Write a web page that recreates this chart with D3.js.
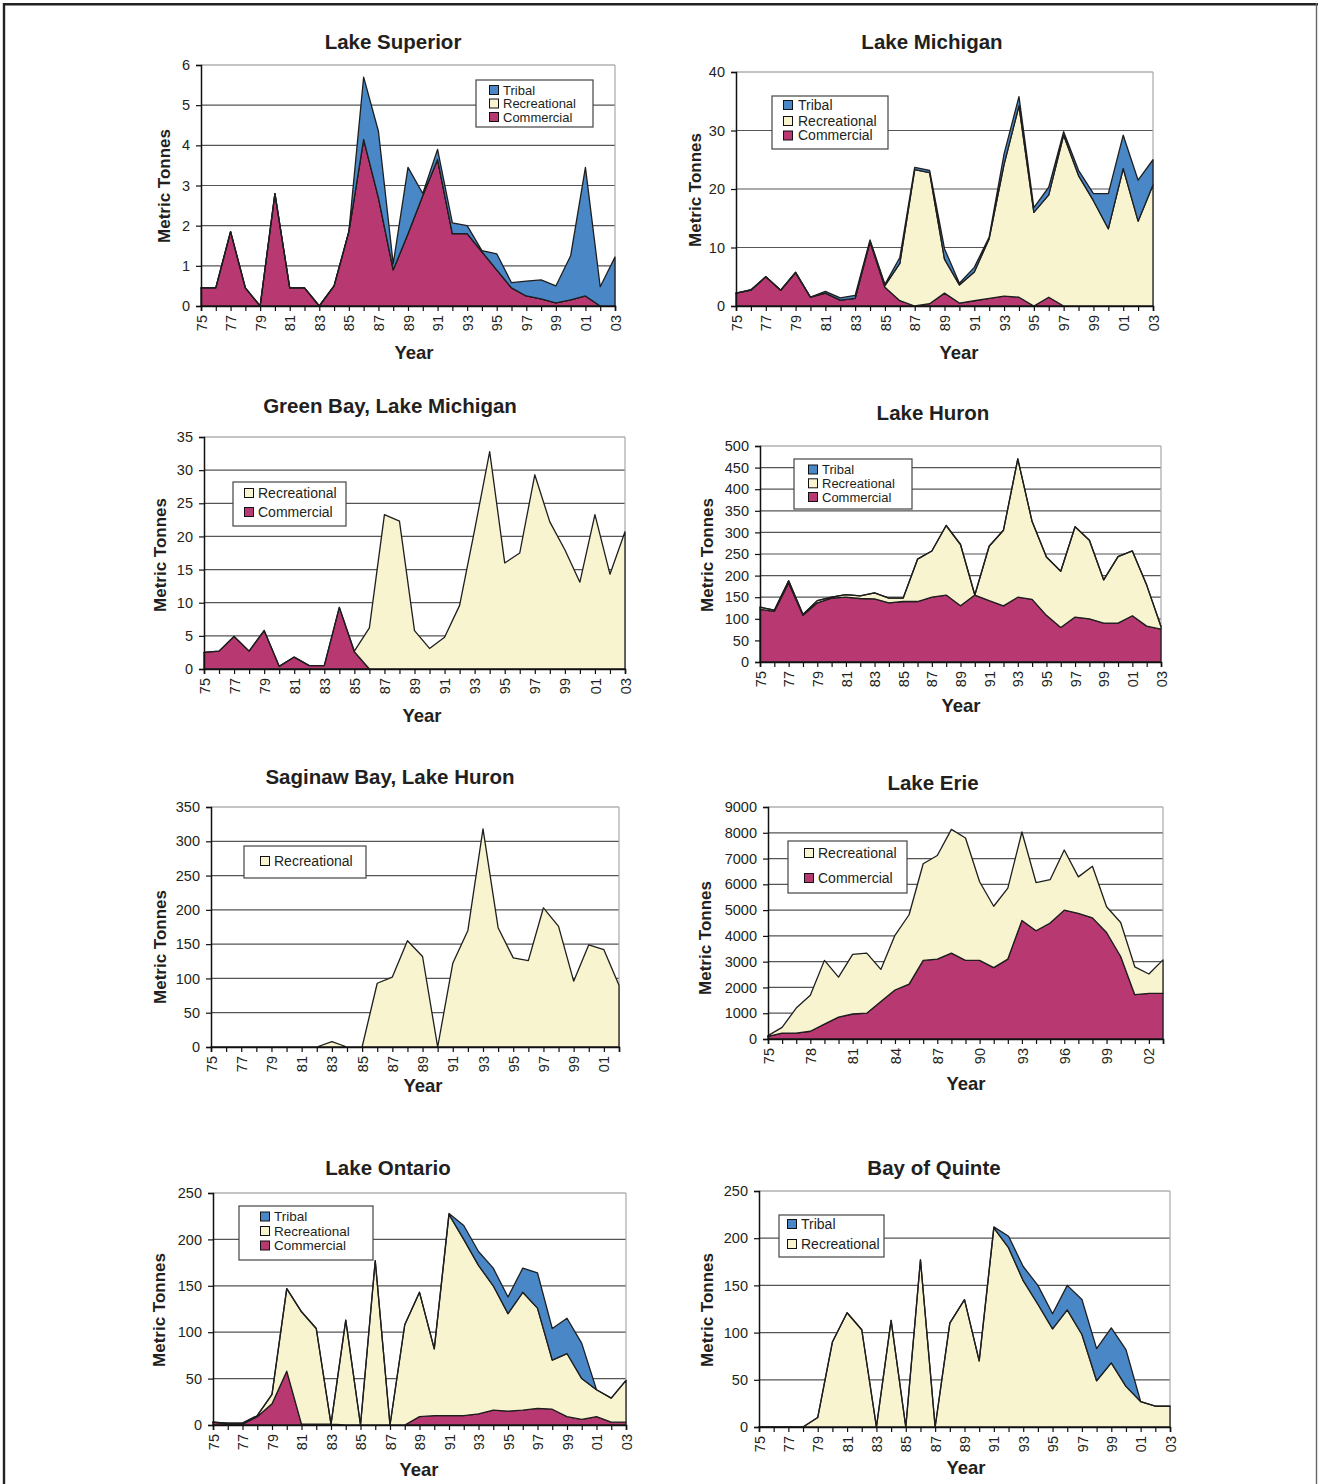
<!DOCTYPE html>
<html><head><meta charset="utf-8">
<script src="https://cdn.jsdelivr.net/npm/d3@7"></script>
<style>
body{margin:0;background:#fff}
svg{display:block}
text{font-family:"Liberation Sans",Arial,Helvetica,sans-serif;fill:#231f20}
</style>
</head><body>
<svg id="chart" width="1318" height="1484"></svg>
<script>
// ---------- DATA ----------
const years = [1975,1976,1977,1978,1979,1980,1981,1982,1983,1984,1985,1986,1987,1988,1989,1990,1991,1992,1993,1994,1995,1996,1997,1998,1999,2000,2001,2002,2003];
const yearsSaginaw = [1975,1976,1977,1978,1979,1980,1981,1982,1983,1984,1985,1986,1987,1988,1989,1990,1991,1992,1993,1994,1995,1996,1997,1998,1999,2000,2001,2002];

// Lake Superior
const supCommercial   = [0.45,0.45,1.85,0.45,0,2.8,0.45,0.45,0,0.5, 1.85,4.15,2.7,0.9,1.8,2.75,3.65,1.8,1.8,1.35, 0.9,0.45,0.25,0.18,0.08,0.15,0.25,0,0];
const supRecreational = [0,0,0,0,0,0,0,0,0,0, 0,0,0,0,0,0,0,0,0,0, 0,0,0,0,0,0,0,0,0];
const supTribal       = [0,0,0,0,0,0,0,0,0,0, 0,1.55,1.65,0.15,1.65,0.05,0.25,0.27,0.2,0.03, 0.4,0.13,0.37,0.47,0.42,1.1,3.2,0.48,1.22];

// Lake Michigan
const micCommercial   = [2.2,2.7,5.0,2.7,5.7,1.5,2.2,1.0,1.3,11.0, 3.2,0.9,0,0.4,2.2,0.5,0.9,1.3,1.7,1.5, 0,1.5,0,0,0,0,0,0,0];
const micRecreational = [0,0,0,0,0,0,0,0,0,0, 0.3,6.4,23.3,22.4,5.8,3.1,4.9,10.2,22.5,32.7, 16,17.5,29.2,22.3,18,13.2,23.5,14.5,20.7];
const micTribal       = [0,0.1,0,0,0.1,0,0.3,0.4,0.5,0.3, 0.2,1.0,0.4,0.4,1.8,0.3,0.8,0.3,1.8,1.6, 0.8,1.3,0.6,0.9,1.2,6.0,5.7,7.0,4.3];

// Green Bay, Lake Michigan
const gbCommercial   = [2.5,2.7,4.9,2.7,5.8,0.4,1.8,0.5,0.5,9.3, 2.6,0,0,0,0,0,0,0,0,0, 0,0,0,0,0,0,0,0,0];
const gbRecreational = [0,0,0,0,0,0,0,0,0,0, 0.1,6.2,23.3,22.3,5.8,3.1,4.8,9.6,21,32.8, 16,17.5,29.3,22.2,18,13.1,23.3,14.3,20.7];

// Lake Huron
const hurCommercial   = [122,117,183,108,137,148,150,147,146,137, 140,140,150,155,130,155,142,130,150,145, 108,80,104,100,90,90,107,83,76];
const hurRecreational = [5,3,5,2,5,2,6,6,14,11, 8,98,107,161,142,0,126,175,320,180, 135,130,209,182,100,154,150,95,6];
const hurTribal       = [0,0,0,0,0,0,0,0,0,0, 0,0,0,0,0,0,0,0,0,0, 0,0,0,0,0,0,0,0,0];

// Saginaw Bay, Lake Huron
const sagRecreational = [0,0,0,0,0,0,0,0,8,0, 0,93,102,155,132,0,122,170,318,174, 130,126,203,176,96,149,142,90];

// Lake Erie
const erieCommercial   = [100,230,230,300,580,850,970,1000,1450,1900, 2130,3050,3100,3330,3050,3050,2770,3100,4600,4200, 4500,5000,4870,4700,4130,3200,1720,1770,1770];
const erieRecreational = [30,220,970,1400,2470,1550,2310,2330,1250,2120, 2690,3750,4020,4800,4750,3050,2380,2750,3430,1870, 1680,2330,1420,2000,1000,1320,1080,750,1300];

// Lake Ontario
const ontCommercial   = [3,1,1,9,23,58,1,1,1,0, 0,0,0,0,9,10,10,10,12,16, 15,16,18,17,9,6,9,3,3];
const ontRecreational = [0,1,1,1,10,89,121,103,0,113, 0,177,0,108,134,72,217,190,160,134, 105,127,108,53,68,44,29,26,45];
const ontTribal       = [0,0,0,0,0,0,0,0,0,0, 0,0,0,0,0,0,1,15,15,19, 18,26,38,34,38,38,0,0,0];

// Bay of Quinte
const bqRecreational = [0,0,0,0,10,90,121,103,0,113, 0,177,0,110,135,70,211,190,155,130, 104,124,98,49,68,43,27,22,22];
const bqTribal       = [0,0,0,0,0,0,0,0,0,0, 0,0,0,0,0,0,1,12,15,20, 16,26,37,34,37,39,0,0,0];

// ---------- STYLE ----------
const COLORS = {Commercial:"#b83872", Recreational:"#f8f4d0", Tribal:"#4a87c6"};

const panels = [
 {title:"Lake Superior", tx:393, ty:49, box:{l:201,r:615,t:65,b:306}, yMax:6, yStep:1, years:years, every:2,
  series:[["Commercial",supCommercial],["Recreational",supRecreational],["Tribal",supTribal]],
  legend:{x:476,y:80,w:117,h:47,fs:13,sx:494,tx:503,items:[["Tribal",90],["Recreational",103.5],["Commercial",117]]},
  ylab:[164,186], xlab:[414,353]},
 {title:"Lake Michigan", tx:932, ty:49, box:{l:736,r:1153,t:72,b:306}, yMax:40, yStep:10, years:years, every:2,
  series:[["Commercial",micCommercial],["Recreational",micRecreational],["Tribal",micTribal]],
  legend:{x:772,y:96,w:116,h:53,fs:14,sx:788,tx:798,items:[["Tribal",105],["Recreational",121],["Commercial",135.5]]},
  ylab:[695,190], xlab:[959,353]},
 {title:"Green Bay, Lake Michigan", tx:390, ty:413, box:{l:204,r:625,t:437,b:669}, yMax:35, yStep:5, years:years, every:2,
  series:[["Commercial",gbCommercial],["Recreational",gbRecreational]],
  legend:{x:233,y:482,w:113,h:44,fs:14,sx:249,tx:258,items:[["Recreational",493],["Commercial",512]]},
  ylab:[160,555], xlab:[422,716]},
 {title:"Lake Huron", tx:933, ty:420, box:{l:760,r:1161,t:446,b:662}, yMax:500, yStep:50, years:years, every:2,
  series:[["Commercial",hurCommercial],["Recreational",hurRecreational],["Tribal",hurTribal]],
  legend:{x:794,y:459,w:118,h:50,fs:13,sx:813,tx:822,items:[["Tribal",469.5],["Recreational",483.3],["Commercial",497]]},
  ylab:[707,555], xlab:[961,706]},
 {title:"Saginaw Bay, Lake Huron", tx:390, ty:784, box:{l:211,r:619,t:807,b:1047}, yMax:350, yStep:50, years:yearsSaginaw, every:2,
  series:[["Recreational",sagRecreational]],
  legend:{x:244,y:846,w:122,h:32,fs:14,sx:265,tx:274,items:[["Recreational",861]]},
  ylab:[160,947], xlab:[423,1086]},
 {title:"Lake Erie", tx:933, ty:790, box:{l:768,r:1163,t:807,b:1039}, yMax:9000, yStep:1000, years:years, every:3,
  series:[["Commercial",erieCommercial],["Recreational",erieRecreational]],
  legend:{x:788,y:841,w:119,h:52,fs:14,sx:809,tx:818,items:[["Recreational",853],["Commercial",878]]},
  ylab:[705,938], xlab:[966,1084]},
 {title:"Lake Ontario", tx:388, ty:1175, box:{l:213,r:626,t:1193,b:1425}, yMax:250, yStep:50, years:years, every:2,
  series:[["Commercial",ontCommercial],["Recreational",ontRecreational],["Tribal",ontTribal]],
  legend:{x:239,y:1206,w:134,h:54,fs:13.5,sx:265,tx:274,items:[["Tribal",1216.5],["Recreational",1231],["Commercial",1245.5]]},
  ylab:[159,1310], xlab:[419,1470]},
 {title:"Bay of Quinte", tx:934, ty:1175, box:{l:759,r:1170,t:1191,b:1427}, yMax:250, yStep:50, years:years, every:2,
  series:[["Recreational",bqRecreational],["Tribal",bqTribal]],
  legend:{x:779,y:1215,w:105,h:42,fs:14,sx:792,tx:801,items:[["Tribal",1224],["Recreational",1244]]},
  ylab:[707,1310], xlab:[966,1468]}
];

const svg = d3.select("#chart");

// page frame
svg.append("line").attr("x1",3).attr("x2",1318).attr("y1",4.2).attr("y2",4.2).attr("stroke","#222").attr("stroke-width",2.4);
svg.append("line").attr("x1",4).attr("x2",4).attr("y1",3).attr("y2",1484).attr("stroke","#222").attr("stroke-width",2.4);
svg.append("line").attr("x1",1316.5).attr("x2",1316.5).attr("y1",3).attr("y2",1484).attr("stroke","#666").attr("stroke-width",1.4);

panels.forEach(p => {
  const g = svg.append("g");
  const B = p.box;
  const yrs = p.years;
  const x = d3.scaleLinear().domain([yrs[0], yrs[yrs.length-1]]).range([B.l, B.r]);
  const y = d3.scaleLinear().domain([0, p.yMax]).range([B.b, B.t]);
  const yTicks = d3.range(0, p.yMax + p.yStep/2, p.yStep);

  // gridlines
  g.append("g").selectAll("line").data(yTicks.filter(v => v > 0)).join("line")
    .attr("x1", B.l).attr("x2", B.r).attr("y1", d => y(d)).attr("y2", d => y(d))
    .attr("stroke", d => d === p.yMax ? "#8a8a8a" : "#555").attr("stroke-width", 1.2);
  // right border
  g.append("line").attr("x1", B.r).attr("x2", B.r).attr("y1", B.t).attr("y2", B.b)
    .attr("stroke", "#a8a8a8").attr("stroke-width", 1.2);

  // stacked areas
  const keys = p.series.map(s => s[0]);
  const rows = yrs.map((yr, i) => {
    const o = {year: yr};
    p.series.forEach(s => { o[s[0]] = s[1][i]; });
    return o;
  });
  const stacked = d3.stack().keys(keys)(rows);
  const area = d3.area().x(d => x(d.data.year)).y0(d => y(d[0])).y1(d => y(d[1]));
  g.append("g").selectAll("path").data(stacked).join("path")
    .attr("d", area)
    .attr("fill", d => COLORS[d.key])
    .attr("stroke", "#1e1e1e").attr("stroke-width", 1.3).attr("stroke-linejoin", "round");

  // y axis
  const ya = g.append("g").attr("transform", `translate(${B.l},0)`)
    .call(d3.axisLeft(y).tickValues(yTicks).tickSize(5).tickPadding(6).tickFormat(d3.format("d")));
  ya.select(".domain").attr("stroke", "#111").attr("stroke-width", 1.5);
  ya.selectAll(".tick line").attr("stroke", "#111").attr("stroke-width", 1.2);
  ya.selectAll("text").attr("font-size", 14.5).attr("font-family", "Liberation Sans, Arial, sans-serif").attr("fill", "#231f20");

  // x axis
  const xa = g.append("g").attr("transform", `translate(0,${B.b})`)
    .call(d3.axisBottom(x).tickValues(yrs).tickSize(5)
      .tickFormat((d, i) => (i % p.every === 0) ? String(d).slice(2) : ""));
  xa.select(".domain").attr("stroke", "#111").attr("stroke-width", 1.6);
  xa.selectAll(".tick line").attr("stroke", "#111").attr("stroke-width", 1.2);
  xa.selectAll("text").attr("font-size", 14.5).attr("font-family", "Liberation Sans, Arial, sans-serif").attr("fill", "#231f20")
    .attr("transform", "rotate(-90)").attr("text-anchor", "end")
    .attr("x", -9).attr("y", 0).attr("dy", "0.35em");

  // title
  g.append("text").attr("x", p.tx).attr("y", p.ty).attr("text-anchor", "middle")
    .attr("font-size", 20.5).attr("font-weight", "bold").text(p.title);
  // axis titles
  g.append("text").attr("transform", `translate(${p.ylab[0]},${p.ylab[1]}) rotate(-90)`)
    .attr("text-anchor", "middle").attr("dy", "0.35em")
    .attr("font-size", 17).attr("font-weight", "bold").text("Metric Tonnes");
  g.append("text").attr("x", p.xlab[0]).attr("y", p.xlab[1]).attr("dy", "0.35em")
    .attr("text-anchor", "middle").attr("font-size", 18.5).attr("font-weight", "bold").text("Year");

  // legend
  const L = p.legend;
  const lg = g.append("g");
  lg.append("rect").attr("x", L.x).attr("y", L.y).attr("width", L.w).attr("height", L.h)
    .attr("fill", "#fff").attr("stroke", "#444").attr("stroke-width", 1.2);
  L.items.forEach(([name, cy]) => {
    lg.append("rect").attr("x", L.sx - 4.5).attr("y", cy - 4.5).attr("width", 9).attr("height", 9)
      .attr("fill", COLORS[name]).attr("stroke", "#111").attr("stroke-width", 1);
    lg.append("text").attr("x", L.tx).attr("y", cy).attr("dy", "0.35em")
      .attr("font-size", L.fs).text(name);
  });
});
</script>
</body></html>
